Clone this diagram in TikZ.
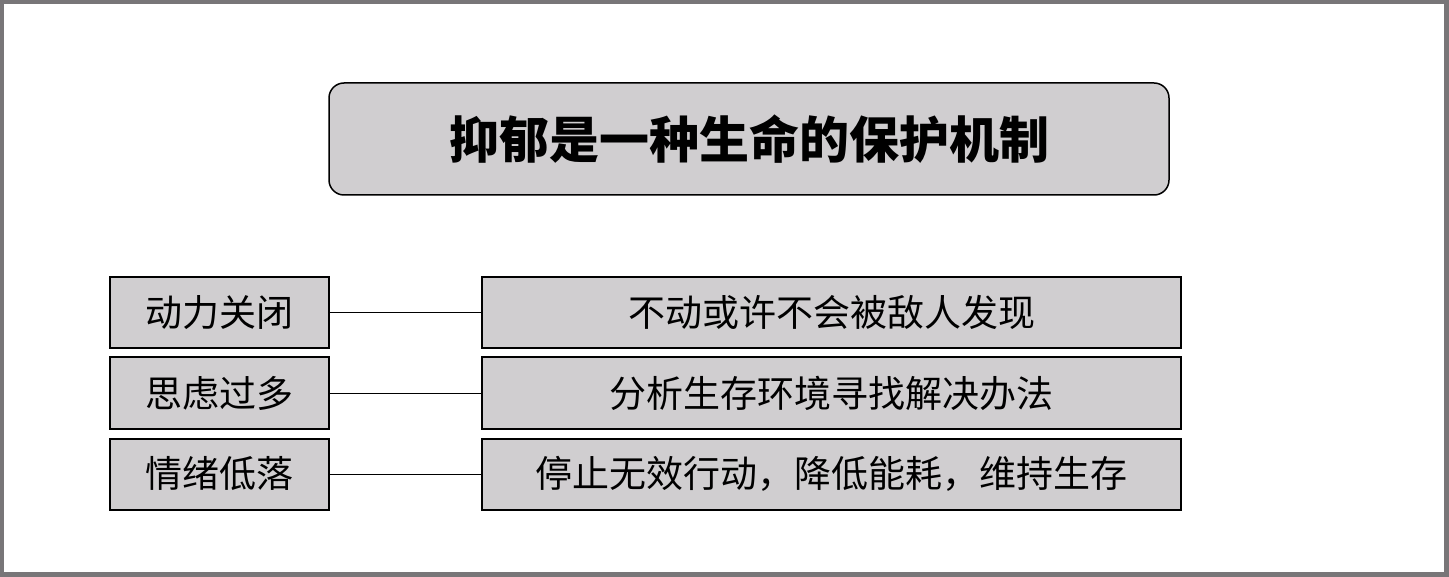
\documentclass[tikz,border=0pt]{standalone}
\usepackage{fontspec}
\setmainfont{Noto Sans CJK SC}
\definecolor{framegray}{RGB}{120,118,120}
\definecolor{boxgray}{RGB}{208,206,208}
\tikzset{
    title/.style={draw, fill=boxgray, line width=1.5pt, rounded corners=15pt,
        minimum width=840pt, minimum height=112pt, inner sep=0pt,
        font=\fontsize{50}{58}\selectfont\bfseries},
    cause/.style={draw, fill=boxgray, line width=2pt,
        minimum width=219pt, minimum height=71pt, inner sep=0pt,
        font=\fontsize{37}{44}\selectfont},
    effect/.style={cause, minimum width=699pt}
}
\begin{document}
\begin{tikzpicture}[x=1pt, y=-1pt]
    % Frame
    \fill[framegray] (0,0) rectangle (1449,577);
    \fill[white] (4,4) rectangle (1444,572);
    \useasboundingbox (0,0) rectangle (1449,577);

    % Title
    \node[title] (head) at (749,139) {抑郁是一种生命的保护机制};

    % Rows
    \node[cause] (c1) at (219.5,312.5) {动力关闭};
    \node[cause] (c2) at (219.5,393) {思虑过多};
    \node[cause] (c3) at (219.5,474) {情绪低落};

    \node[effect] (e1) at (831.5,312.5) {不动或许不会被敌人发现};
    \node[effect] (e2) at (831.5,393) {分析生存环境寻找解决办法};
    \node[effect] (e3) at (831.5,474) {停止无效行动，降低能耗，维持生存};

    % Links
    \draw[line width=1pt] (c1) -- (e1);
    \draw[line width=1pt] (c2) -- (e2);
    \draw[line width=1pt] (c3) -- (e3);
\end{tikzpicture}
\end{document}
